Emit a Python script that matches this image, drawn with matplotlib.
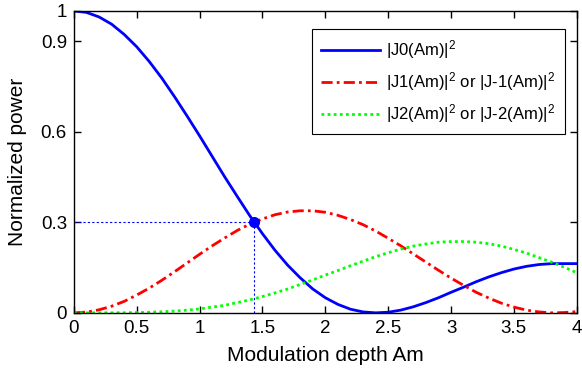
import matplotlib
matplotlib.use("Agg")
import matplotlib.pyplot as plt
import numpy as np

plt.rcParams['font.family'] = ['Liberation Sans', 'DejaVu Sans']
plt.rcParams['mathtext.fontset'] = 'custom'
plt.rcParams['mathtext.rm'] = 'Liberation Sans'
plt.rcParams['mathtext.it'] = 'Liberation Sans'
plt.rcParams['mathtext.bf'] = 'Liberation Sans'

am = [0.0, 0.1, 0.2, 0.3, 0.4, 0.5, 0.6, 0.7, 0.8, 0.9, 1.0, 1.1, 1.2, 1.3, 1.4, 1.5,
      1.6, 1.7, 1.8, 1.9, 2.0, 2.1, 2.2, 2.3, 2.4, 2.5, 2.6, 2.7, 2.8, 2.9, 3.0, 3.1,
      3.2, 3.3, 3.4, 3.5, 3.6, 3.7, 3.8, 3.9, 4.0]
j0_power = [1.0, 0.995, 0.980, 0.956, 0.922, 0.881, 0.832, 0.777, 0.716, 0.652, 0.586,
            0.518, 0.450, 0.385, 0.321, 0.262, 0.207, 0.158, 0.116, 0.079, 0.050, 0.028,
            0.012, 0.003, 0.000, 0.002, 0.009, 0.020, 0.034, 0.050, 0.068, 0.085, 0.103,
            0.119, 0.133, 0.145, 0.154, 0.160, 0.163, 0.163, 0.163]
j1_power = [0.0, 0.0025, 0.010, 0.022, 0.038, 0.059, 0.082, 0.108, 0.136, 0.165, 0.194,
            0.222, 0.248, 0.273, 0.294, 0.311, 0.325, 0.334, 0.338, 0.338, 0.333, 0.323,
            0.309, 0.292, 0.271, 0.247, 0.222, 0.195, 0.168, 0.141, 0.115, 0.091, 0.068,
            0.049, 0.032, 0.019, 0.009, 0.003, 0.000, 0.001, 0.004]
j2_power = [0.0, 0.0, 0.0, 0.0001, 0.0004, 0.0009, 0.0019, 0.0035, 0.0057, 0.0089, 0.013,
            0.019, 0.025, 0.034, 0.043, 0.054, 0.066, 0.079, 0.094, 0.109, 0.125, 0.140,
            0.156, 0.171, 0.186, 0.199, 0.211, 0.221, 0.228, 0.234, 0.236, 0.236, 0.234,
            0.229, 0.221, 0.210, 0.198, 0.183, 0.168, 0.151, 0.133]
cross_x = 1.43
cross_y = 0.30

labels = [r'|J0(Am)|$^2$', r'|J1(Am)|$^2$ or |J-1(Am)|$^2$', r'|J2(Am)|$^2$ or |J-2(Am)|$^2$']
xticks = [0, 0.5, 1, 1.5, 2, 2.5, 3, 3.5, 4]
xticklabels = ['0', '0.5', '1', '1.5', '2', '2.5', '3', '3.5', '4']
yticks = [0, 0.3, 0.6, 0.9, 1]
yticklabels = ['0', '0.3', '0.6', '0.9', '1']

fig = plt.figure(figsize=(5.82, 3.76), dpi=100)
ax = fig.add_axes([0.127, 0.168, 0.864, 0.803])

ax.plot(am, j0_power, color=(0, 0, 1), lw=2, ls='-', label=labels[0])
ax.plot(am, j1_power, color=(1, 0, 0), lw=2, ls=(0, (4, 1.5, 1, 1.5)), label=labels[1])
ax.plot(am, j2_power, color=(0, 1, 0), lw=2, ls=(0, (1, 1.2)), label=labels[2])

ax.plot([0, cross_x], [cross_y, cross_y], color=(0, 0, 1), lw=0.8, ls=(0, (2, 2)))
ax.plot([cross_x, cross_x], [0, cross_y], color=(0, 0, 1), lw=0.8, ls=(0, (2, 2)))
ax.plot([cross_x], [cross_y], 'o', color=(0, 0, 1), ms=7)

ax.set_xlim(0, 4)
ax.set_ylim(0, 1)
ax.set_xticks(xticks)
ax.set_xticklabels(xticklabels)
ax.set_yticks(yticks)
ax.set_yticklabels(yticklabels)
ax.tick_params(direction='in', length=5, width=1, labelsize=13.5, top=True, right=True,
               labeltop=False, labelright=False, pad=5)
for s in ax.spines.values():
    s.set_linewidth(1)
ax.set_xlabel('Modulation depth Am', fontsize=15, labelpad=7)
ax.set_ylabel('Normalized power', fontsize=15, labelpad=10)

leg = ax.legend(loc='upper right', bbox_to_anchor=(0.976, 0.940), fontsize=12,
                fancybox=False, edgecolor='black', framealpha=1, handlelength=3.5,
                handletextpad=0.4, borderpad=0.55, labelspacing=0.55, borderaxespad=0)
leg.get_frame().set_linewidth(0.8)

fig.savefig('out.png', dpi=100)
